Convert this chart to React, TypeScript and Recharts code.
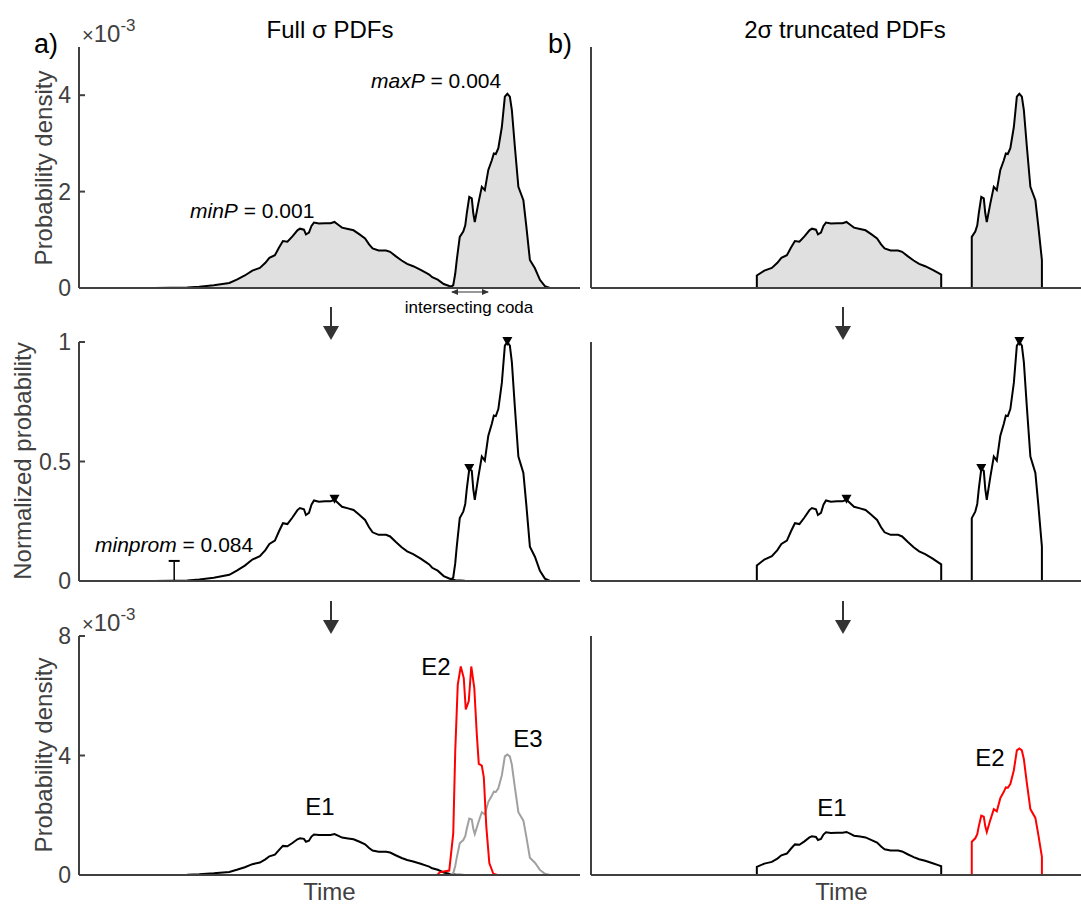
import React from 'react';
import { Area, ComposedChart, Line, ReferenceDot, ReferenceLine, XAxis, YAxis } from 'recharts';

const FONT = '"Liberation Sans", Arial, Helvetica, sans-serif';
const AXIS_COLOR = '#404040';

// time runs 0..100 across each panel (no ticks on the time axis)
// E1: broad early pdf, x10^-3
const e1Time = [0, 15, 21.6, 24, 26.9, 30, 31.5, 33.1, 34.6, 36.1, 37.2, 38, 39.1, 39.9, 40.7, 41.6, 42.6, 43.6, 44.1, 44.9, 45.3, 45.9, 46.4, 46.9, 47.9, 49.1, 50.2, 51, 51.8, 52.5, 53.7, 54.8, 56, 57.1, 57.9, 58.6, 59.8, 61.3, 62.1, 63.2, 64.4, 65.5, 66.7, 68.2, 69.3, 69.9, 70.5, 71.6, 72.8, 73.9, 75.1, 77, 80, 100];
const e1Pdf = [0, 0, 0.01, 0.025, 0.056, 0.104, 0.174, 0.26, 0.362, 0.417, 0.522, 0.626, 0.682, 0.835, 0.974, 0.96, 1.071, 1.196, 1.231, 1.21, 1.113, 1.148, 1.287, 1.357, 1.336, 1.343, 1.343, 1.37, 1.308, 1.252, 1.224, 1.197, 1.113, 1.03, 0.905, 0.821, 0.779, 0.779, 0.751, 0.661, 0.57, 0.501, 0.452, 0.376, 0.313, 0.28, 0.223, 0.174, 0.083, 0.042, 0.014, 0.004, 0, 0];

// E3: late narrow pdf (the "maxP" event), x10^-3
const e3Time = [0, 74, 74.7, 75.1, 75.4, 76, 76.7, 77.1, 77.4, 77.9, 78.4, 78.7, 79, 79.7, 80.4, 81, 81.7, 82.4, 82.8, 83.2, 83.7, 84.4, 85, 85.5, 86, 86.4, 87, 87.7, 88.7, 89.3, 90, 91, 92, 93, 94, 100];
const e3Pdf = [0, 0, 0.06, 0.3, 0.58, 1.06, 1.17, 1.3, 1.55, 1.89, 1.86, 1.55, 1.37, 1.75, 2.1, 2.03, 2.45, 2.65, 2.79, 2.78, 2.9, 3.34, 3.97, 4.03, 3.97, 3.69, 2.93, 2.1, 1.82, 1.27, 0.58, 0.41, 0.17, 0.04, 0, 0];

// E2: intersecting coda pdf, x10^-3
const e2Time = [71.5, 72, 72.8, 73.9, 74.7, 75.1, 75.6, 76.2, 76.8, 77.2, 77.8, 78.3, 78.9, 79.4, 79.8, 80.4, 80.8, 81.3, 81.9, 82.7, 83.5];
const e2Pdf = [0, 0.09, 0.12, 0.15, 1.39, 4.16, 6.37, 6.98, 6.59, 5.54, 5.82, 6.98, 6.26, 4.71, 3.72, 3.66, 3.27, 1.62, 0.4, 0.04, 0];

// 2 sigma windows
const e1Window = [33.1, 69.9];
const e3Window = [76, 90];

// findpeaks results and min prominence marker
const peakTimes = [51, 77.9, 85.5];
const minPromTime = 19;
const minProm = 0.084;

type Pt = { t: number; v: number };
const zip = (t: number[], v: number[]): Pt[] => t.map((x, i) => ({ t: x, v: v[i] }));
const scaleBy = (pts: Pt[], k: number): Pt[] => pts.map((p) => ({ t: p.t, v: p.v * k }));
const truncate = (pts: Pt[], [lo, hi]: number[]): Pt[] => [
  { t: 0, v: 0 },
  { t: lo, v: 0 },
  ...pts.filter((p) => p.t >= lo && p.t <= hi),
  { t: hi, v: 0 },
  { t: 100, v: 0 },
];
const mass = (pts: Pt[]) =>
  pts.slice(1).reduce((s, p, i) => s + (p.t - pts[i].t) * (p.v + pts[i].v) / 2, 0);

const e1 = zip(e1Time, e1Pdf);
const e2 = zip(e2Time, e2Pdf);
const e3 = zip(e3Time, e3Pdf);
const maxP = Math.max(...e3Pdf);

const e1Trunc = truncate(e1, e1Window);
const e3Trunc = truncate(e3, e3Window);
const e1TruncRenorm = scaleBy(e1Trunc, mass(e1) / mass(e1Trunc));
const e3TruncRenorm = scaleBy(e3Trunc, mass(e3) / mass(e3Trunc));

const allNorm = [...scaleBy(e1, 1 / maxP), ...scaleBy(e3, 1 / maxP)];
const peaks = peakTimes.map((t) => allNorm.find((p) => p.t === t) as Pt);

const DownTriangle = (props: any) => {
  const { cx, cy } = props;
  return <path d={`M${cx - 5},${cy - 5}L${cx + 5},${cy - 5}L${cx},${cy + 4}Z`} fill="#000" />;
};

interface PanelProps {
  left: number;
  plotTop: number;
  plotH: number;
  yMax: number;
  ticks: number[];
  labels: boolean;
  children: React.ReactNode;
}

// plot area starts 79px into the chart and is 501px wide
const Panel = ({ left, plotTop, plotH, yMax, ticks, labels, children }: PanelProps) => (
  <div style={{ position: 'absolute', left, top: plotTop - 20 }}>
    <ComposedChart width={580} height={plotH + 35} margin={{ top: 20, right: 0, bottom: 0, left: 0 }}>
      <XAxis
        type="number"
        dataKey="t"
        domain={[0, 100]}
        allowDataOverflow
        tick={false}
        tickLine={false}
        height={15}
        axisLine={{ stroke: AXIS_COLOR, strokeWidth: 2 }}
      />
      <YAxis
        type="number"
        dataKey="v"
        domain={[0, yMax]}
        ticks={ticks}
        interval={0}
        width={79}
        tickSize={-6}
        tickMargin={14}
        tick={labels ? { fontSize: 23, fill: AXIS_COLOR, fontFamily: FONT } : false}
        tickLine={{ stroke: AXIS_COLOR, strokeWidth: 2 }}
        axisLine={{ stroke: AXIS_COLOR, strokeWidth: 2 }}
      />
      {children}
    </ComposedChart>
  </div>
);

const pdfArea = (data: Pt[], key: string) => (
  <Area key={key} data={data} dataKey="v" type="linear" stroke="#000" strokeWidth={2} fill="#e0e0e0" fillOpacity={1} isAnimationActive={false} />
);
const pdfLine = (data: Pt[], key: string, color = '#000') => (
  <Line key={key} data={data} dataKey="v" type="linear" stroke={color} strokeWidth={2} dot={false} isAnimationActive={false} />
);
const peakDots = (prefix: string) =>
  peaks.map((p, i) => <ReferenceDot key={prefix + i} x={p.t} y={p.v} r={5} shape={DownTriangle} />);

const ROW1 = { plotTop: 47, plotH: 241, yMax: 5, ticks: [0, 2, 4] };
const ROW2 = { plotTop: 342, plotH: 239, yMax: 1, ticks: [0, 0.5, 1] };
const ROW3 = { plotTop: 636, plotH: 239, yMax: 8, ticks: [0, 4, 8] };

const Arrow = ({ x, y }: { x: number; y: number }) => (
  <g>
    <line x1={x} y1={y} x2={x} y2={y + 20} stroke="#333" strokeWidth={2} />
    <path d={`M${x - 8},${y + 19}L${x + 8},${y + 19}L${x},${y + 33}Z`} fill="#333" />
  </g>
);

const Exponent = ({ y }: { y: number }) => (
  <text x={82} y={y} fill={AXIS_COLOR}>
    <tspan fontSize={20}>×</tspan>
    <tspan fontSize={24}>10</tspan>
    <tspan fontSize={17} dy={-11}>-3</tspan>
  </text>
);

export default function App() {
  return (
    <div style={{ position: 'absolute', left: 0, top: 0, width: 1081, height: 907, overflow: 'hidden', background: '#fff', fontFamily: FONT }}>
      {/* a) full sigma pdfs */}
      <Panel left={0} {...ROW1} labels>
        {pdfArea(e1, 'a1')}
        {pdfArea(e3, 'a3')}
      </Panel>
      <Panel left={0} {...ROW2} labels>
        {pdfLine(scaleBy(e1, 1 / maxP), 'n1')}
        {pdfLine(scaleBy(e3, 1 / maxP), 'n3')}
        {peakDots('pa')}
        <ReferenceLine segment={[{ x: minPromTime, y: 0 }, { x: minPromTime, y: minProm }]} stroke="#000" strokeWidth={1.5} />
        <ReferenceLine segment={[{ x: minPromTime - 1.1, y: minProm }, { x: minPromTime + 1.1, y: minProm }]} stroke="#000" strokeWidth={2} />
        <ReferenceLine segment={[{ x: minPromTime - 1.1, y: 0 }, { x: minPromTime + 1.1, y: 0 }]} stroke="#000" strokeWidth={2} />
      </Panel>
      <Panel left={0} {...ROW3} labels>
        {pdfLine(e1, 'e1')}
        {pdfLine(e3, 'e3', '#a0a0a0')}
        {pdfLine(e2, 'e2', '#ff0000')}
      </Panel>

      {/* b) 2 sigma truncated pdfs */}
      <Panel left={512} {...ROW1} labels={false}>
        {pdfArea(e1Trunc, 'b1')}
        {pdfArea(e3Trunc, 'b3')}
      </Panel>
      <Panel left={512} {...ROW2} labels={false}>
        {pdfLine(scaleBy(e1Trunc, 1 / maxP), 'm1')}
        {pdfLine(scaleBy(e3Trunc, 1 / maxP), 'm3')}
        {peakDots('pb')}
      </Panel>
      <Panel left={512} {...ROW3} labels={false}>
        {pdfLine(e1TruncRenorm, 'r1')}
        {pdfLine(e3TruncRenorm, 'r2', '#ff0000')}
      </Panel>

      <svg width={1081} height={907} style={{ position: 'absolute', left: 0, top: 0, pointerEvents: 'none' }} fontFamily={FONT}>
        <text x={34} y={53} fontSize={27}>a)</text>
        <text x={548} y={53} fontSize={27}>b)</text>
        <text x={330} y={38} fontSize={24} textAnchor="middle">Full σ PDFs</text>
        <text x={845} y={38} fontSize={24} textAnchor="middle">2σ truncated PDFs</text>

        <Exponent y={42} />
        <Exponent y={631} />

        <text transform="translate(52,168) rotate(-90)" textAnchor="middle" fontSize={24} fill={AXIS_COLOR}>Probability density</text>
        <text transform="translate(31,461) rotate(-90)" textAnchor="middle" fontSize={24} fill={AXIS_COLOR}>Normalized probability</text>
        <text transform="translate(52,755) rotate(-90)" textAnchor="middle" fontSize={24} fill={AXIS_COLOR}>Probability density</text>
        <text x={329.5} y={900} textAnchor="middle" fontSize={24} fill={AXIS_COLOR}>Time</text>
        <text x={841.5} y={900} textAnchor="middle" fontSize={24} fill={AXIS_COLOR}>Time</text>

        <text x={190} y={218} fontSize={21}>
          <tspan fontStyle="italic">minP</tspan>
          {' = 0.001'}
        </text>
        <text x={371} y={88} fontSize={21}>
          <tspan fontStyle="italic">maxP</tspan>
          {' = 0.004'}
        </text>
        <text x={95} y={552} fontSize={21}>
          <tspan fontStyle="italic">minprom</tspan>
          {' = 0.084'}
        </text>
        <text x={469} y={313} fontSize={17} textAnchor="middle">intersecting coda</text>
        <line x1={452} y1={292} x2={488} y2={292} stroke="#333" strokeWidth={1.2} />
        <path d="M451,292L458,289L458,295Z" fill="#333" />
        <path d="M489,292L482,289L482,295Z" fill="#333" />

        <text x={320} y={815} fontSize={24} textAnchor="middle">E1</text>
        <text x={436} y={675} fontSize={24} textAnchor="middle">E2</text>
        <text x={528} y={747} fontSize={24} textAnchor="middle">E3</text>
        <text x={832} y={816} fontSize={24} textAnchor="middle">E1</text>
        <text x={990} y={766} fontSize={24} textAnchor="middle">E2</text>

        <Arrow x={331} y={307} />
        <Arrow x={843} y={307} />
        <Arrow x={331} y={601} />
        <Arrow x={843} y={601} />
      </svg>
    </div>
  );
}
